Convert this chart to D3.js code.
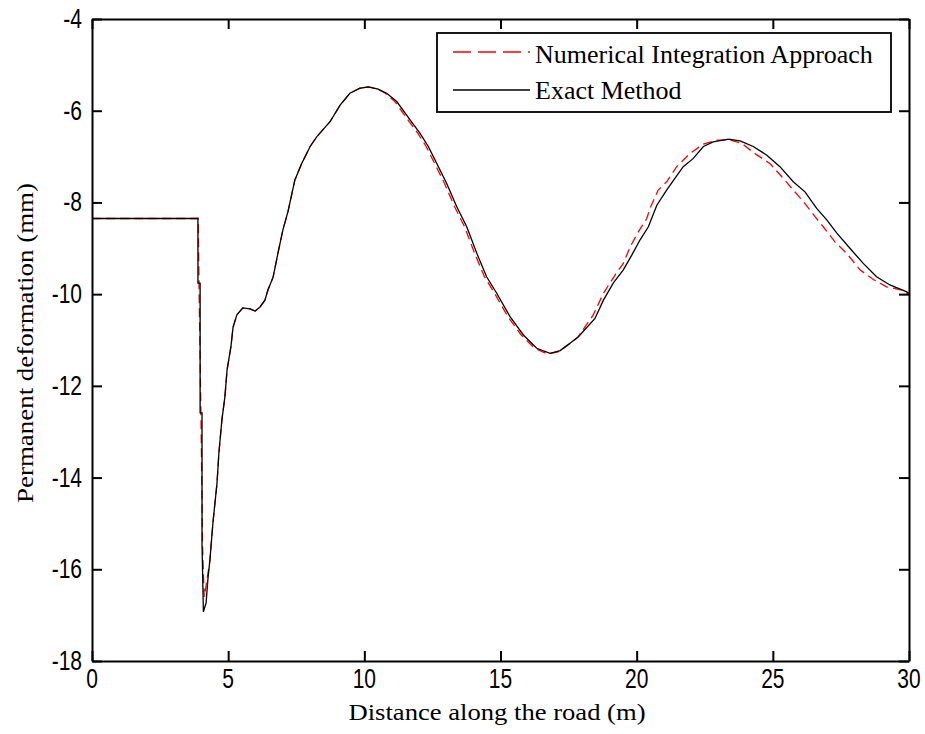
<!DOCTYPE html>
<html>
<head>
<meta charset="utf-8">
<script src="https://cdn.jsdelivr.net/npm/d3@7"></script>
<style>
  body { margin: 0; background: #fff; }
</style>
</head>
<body>
<script>

// ticks
var xTicks = [0, 5, 10, 15, 20, 25, 30];
var yTicks = [-4, -6, -8, -10, -12, -14, -16, -18];

// exact method (black solid)
var exactX = [0, 3.89, 3.89, 3.97, 3.97, 4.04, 4.04, 4.09, 4.19, 4.26, 4.33, 4.44, 4.59, 4.66, 4.77, 4.88,
  4.96, 5.10, 5.18, 5.32, 5.54, 5.80, 5.99, 6.17, 6.35, 6.46, 6.65, 6.83, 7.01, 7.20, 7.45, 7.70,
  8.01, 8.25, 8.74, 9.11, 9.47, 9.84, 10.15, 10.51, 10.82, 11.19, 11.68, 12.04, 12.35, 12.66, 13.02,
  13.39, 13.76, 14.13, 14.49, 14.86, 15.35, 15.84, 16.33, 16.82, 17.19, 17.55, 17.86, 18.47, 18.78,
  19.14, 19.51, 19.82, 20.12, 20.43, 20.74, 21.10, 21.41, 21.71, 22.08, 22.45, 22.81, 23.37, 23.80,
  24.28, 24.78, 25.26, 25.75, 26.18, 26.61, 26.98, 27.35, 27.83, 28.32, 28.81, 29.30, 29.92, 30];
var exactY = [-8.35, -8.35, -9.76, -9.76, -12.59, -12.59, -15.47, -16.93, -16.73, -16.19, -15.80, -14.99, -14.12, -13.46, -12.74, -12.24,
  -11.65, -11.15, -10.72, -10.45, -10.30, -10.32, -10.37, -10.28, -10.13, -9.91, -9.63, -9.10, -8.60, -8.19, -7.51, -7.15,
  -6.78, -6.57, -6.24, -5.88, -5.62, -5.51, -5.48, -5.53, -5.62, -5.80, -6.20, -6.49, -6.78, -7.15, -7.58,
  -8.09, -8.53, -9.11, -9.62, -9.98, -10.49, -10.89, -11.18, -11.29, -11.23, -11.07, -10.93, -10.53, -10.13,
  -9.76, -9.47, -9.15, -8.82, -8.53, -8.06, -7.73, -7.47, -7.22, -7.04, -6.78, -6.68, -6.62, -6.66,
  -6.78, -6.97, -7.22, -7.55, -7.77, -8.13, -8.38, -8.67, -9.00, -9.33, -9.62, -9.80, -9.95, -9.98];

// numerical integration approach (red dashed)
var numX = [0, 3.90, 3.93, 4.00, 4.06, 4.12, 4.17, 4.33, 4.44, 4.59, 4.66, 4.77, 4.88,
  4.96, 5.10, 5.18, 5.32, 5.54, 5.80, 5.99, 6.17, 6.35, 6.46, 6.65, 6.83, 7.01, 7.20, 7.45, 7.70,
  8.01, 8.25, 8.74, 9.11, 9.47, 9.84, 10.15, 10.48, 10.77, 11.12, 11.60, 11.96, 12.27, 12.58, 12.94,
  13.31, 13.68, 14.05, 14.41, 14.78, 15.27, 15.76, 16.25, 16.75, 17.15, 17.52, 17.84, 18.40, 18.78,
  19.21, 19.51, 19.76, 20.06, 20.37, 20.49, 20.79, 21.10, 21.47, 21.96, 22.45, 22.94, 23.43, 23.86,
  24.28, 24.89, 25.33, 25.75, 26.12, 26.55, 26.85, 27.28, 27.71, 28.20, 28.69, 29.18, 29.79, 30];
var numY = [-8.35, -8.35, -9.80, -12.60, -15.50, -16.60, -16.43, -15.80, -14.99, -14.12, -13.46, -12.74, -12.24,
  -11.65, -11.15, -10.72, -10.45, -10.30, -10.32, -10.37, -10.28, -10.13, -9.91, -9.63, -9.10, -8.60, -8.19, -7.51, -7.15,
  -6.78, -6.57, -6.24, -5.88, -5.62, -5.51, -5.48, -5.53, -5.62, -5.80, -6.20, -6.49, -6.78, -7.15, -7.58,
  -8.09, -8.53, -9.11, -9.62, -9.98, -10.49, -10.89, -11.18, -11.31, -11.25, -11.09, -10.94, -10.46, -9.98,
  -9.58, -9.33, -8.97, -8.64, -8.35, -8.13, -7.73, -7.55, -7.22, -6.93, -6.73, -6.64, -6.64, -6.71,
  -6.91, -7.15, -7.44, -7.73, -7.98, -8.31, -8.53, -8.86, -9.11, -9.47, -9.68, -9.84, -9.92, -10.02];

var seriesNames = ["Numerical Integration Approach", "Exact Method"];
var seriesColors = ["#ff0000", "#000000"];

var W = 925, H = 734;
// plot box in px (note: can't call a global "top", it's window.top)
var plotL = 92, plotR = 909, plotT = 19, plotB = 661;
var tickLen = 10;

var svg = d3.select("body").append("svg")
  .attr("width", W)
  .attr("height", H);

svg.append("rect").attr("width", W).attr("height", H).style("fill", "#fff");

var x = d3.scaleLinear().domain([0, 30]).range([plotL, plotR]);
var y = d3.scaleLinear().domain([-18, -4]).range([plotB, plotT]);

// curves
var line = d3.line().x(function(d){ return x(d[0]); }).y(function(d){ return y(d[1]); });

var numPts = d3.zip(numX, numY);
var exactPts = d3.zip(exactX, exactY);

svg.append("path")
  .datum(numPts)
  .attr("d", line)
  .style("fill", "none")
  .style("stroke", seriesColors[0])
  .style("stroke-width", 1.3)
  .style("stroke-dasharray", "9,5");

svg.append("path")
  .datum(exactPts)
  .attr("d", line)
  .style("fill", "none")
  .style("stroke", seriesColors[1])
  .style("stroke-width", 1.3);

// axes, ticks inside on all four sides
var axStroke = 2;
svg.append("g").attr("transform", "translate(0," + plotB + ")")
  .call(d3.axisBottom(x).tickValues(xTicks).tickSizeInner(-tickLen).tickSizeOuter(0).tickFormat(""));
svg.append("g").attr("transform", "translate(0," + plotT + ")")
  .call(d3.axisTop(x).tickValues(xTicks).tickSizeInner(-tickLen).tickSizeOuter(0).tickFormat(""));
svg.append("g").attr("transform", "translate(" + plotL + ",0)")
  .call(d3.axisLeft(y).tickValues(yTicks).tickSizeInner(-tickLen).tickSizeOuter(0).tickFormat(""));
svg.append("g").attr("transform", "translate(" + plotR + ",0)")
  .call(d3.axisRight(y).tickValues(yTicks).tickSizeInner(-tickLen).tickSizeOuter(0).tickFormat(""));

svg.selectAll(".domain").style("stroke", "#000").style("stroke-width", axStroke);
svg.selectAll(".tick line").style("stroke", "#000").style("stroke-width", axStroke);

// tick labels (bitmap font looks tall, so stretch a bit)
var tickFont = "'Liberation Sans', Arial, sans-serif";
xTicks.forEach(function(v){
  svg.append("text")
    .attr("transform", "translate(" + x(v) + "," + 688 + ") scale(1,1.3)")
    .attr("text-anchor", "middle")
    .style("font-family", tickFont)
    .style("font-size", "21px")
    .text(v);
});
yTicks.forEach(function(v){
  svg.append("text")
    .attr("transform", "translate(" + 82 + "," + (y(v) + 9) + ") scale(1,1.3)")
    .attr("text-anchor", "end")
    .style("font-family", tickFont)
    .style("font-size", "21px")
    .text(v);
});

// axis titles
var serif = "'Liberation Serif', 'Times New Roman', serif";
svg.append("text")
  .attr("x", 497).attr("y", 720)
  .attr("text-anchor", "middle")
  .attr("textLength", 297)
  .attr("lengthAdjust", "spacingAndGlyphs")
  .style("font-family", serif)
  .style("font-size", "24px")
  .text("Distance along the road (m)");

svg.append("text")
  .attr("transform", "translate(33," + ((plotT + plotB) / 2 + 3) + ") rotate(-90)")
  .attr("text-anchor", "middle")
  .attr("textLength", 320)
  .attr("lengthAdjust", "spacingAndGlyphs")
  .style("font-family", serif)
  .style("font-size", "24px")
  .text("Permanent deformation (mm)");

// legend
var lg = svg.append("g");
lg.append("rect")
  .attr("x", 437).attr("y", 33).attr("width", 454).attr("height", 79)
  .style("fill", "#fff").style("stroke", "#000").style("stroke-width", 1.8);

var legY = [52, 90];
var legBase = [63, 99];
seriesNames.forEach(function(name, i){
  lg.append("line")
    .attr("x1", 453).attr("x2", 530)
    .attr("y1", legY[i]).attr("y2", legY[i])
    .style("stroke", seriesColors[i])
    .style("stroke-width", 1.3)
    .style("stroke-dasharray", i == 0 ? "18,7" : null);
  lg.append("text")
    .attr("x", 535).attr("y", legBase[i])
    .style("font-family", serif)
    .style("font-size", "26px")
    .text(name);
});

</script>
</body>
</html>
